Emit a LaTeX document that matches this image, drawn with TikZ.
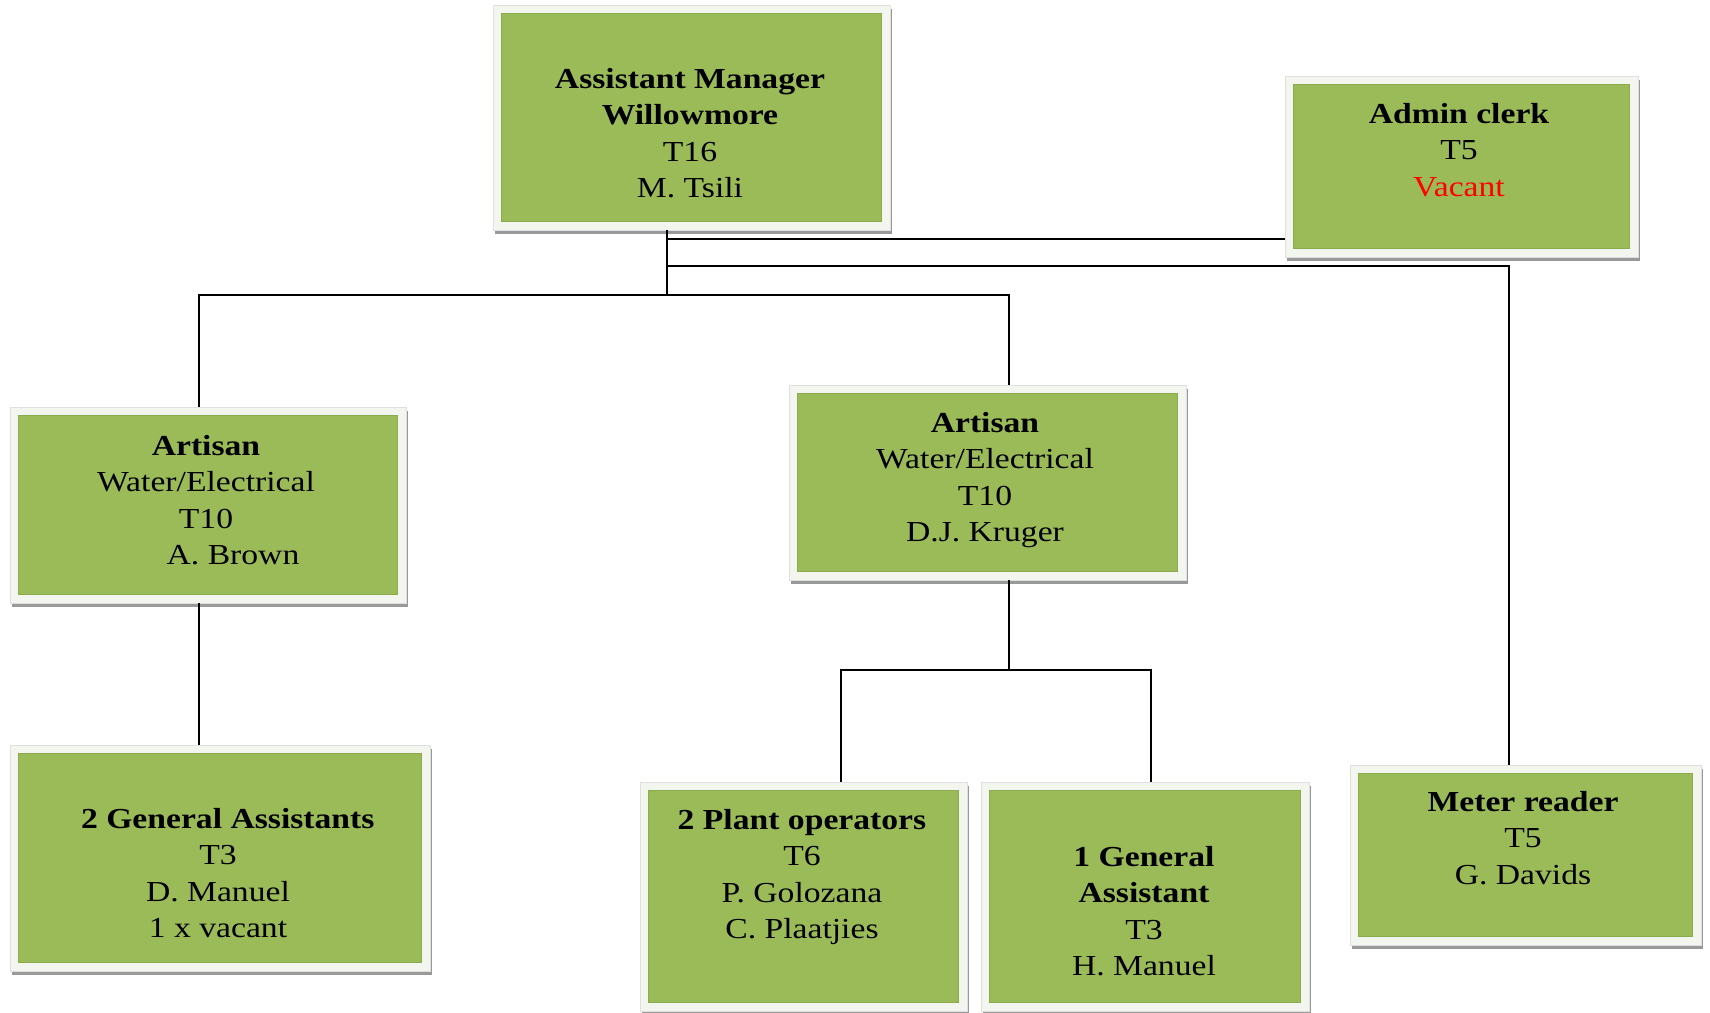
\documentclass[tikz,border=0pt]{standalone}
\usepackage{fontspec}
\setmainfont{Liberation Serif}[FakeStretch=1.16]
\usetikzlibrary{shadows}
\definecolor{boxgreen}{HTML}{9BBB59}
\definecolor{boxedge}{HTML}{8DAA4E}
\definecolor{framecol}{HTML}{F3F6EE}
\definecolor{vacred}{HTML}{FF0000}
\tikzset{
  orgbox/.style={draw=gray!25, line width=0.3pt, fill=framecol, inner sep=0pt,
    drop shadow={shadow xshift=1.2pt, shadow yshift=-1.8pt, fill=gray!80, opacity=1},
    path picture={
      \fill[boxgreen] ([shift={(4pt,-4pt)}]path picture bounding box.north west)
         rectangle ([shift={(-4pt,4pt)}]path picture bounding box.south east);
      \draw[boxedge, line width=0.5pt] ([shift={(4.2pt,-4.2pt)}]path picture bounding box.north west)
         rectangle ([shift={(-4.2pt,4.2pt)}]path picture bounding box.south east);
    }},
  txt/.style={align=center, inner sep=0pt, font=\fontsize{14.5}{18.25}\selectfont},
  link/.style={draw=black, line width=0.95pt}
}
\begin{document}
\begin{tikzpicture}[x=0.5pt, y=-0.5pt]
\useasboundingbox[fill=white] (0,0) rectangle (1710,1013);

% boxes
\node[orgbox, minimum width=198.5pt, minimum height=112.5pt] (top)   at (691.5,117.5) {};
\node[orgbox, minimum width=176.5pt, minimum height=90.5pt]  (admin) at (1461.5,166.5) {};
\node[orgbox, minimum width=198pt,   minimum height=98pt]    (artL)  at (208,505) {};
\node[orgbox, minimum width=198.5pt, minimum height=97.5pt]  (artR)  at (987.5,482.5) {};
\node[orgbox, minimum width=210pt,   minimum height=113pt]   (ga2)   at (220,858) {};
\node[orgbox, minimum width=163.5pt, minimum height=114.5pt] (po)    at (803.5,896.5) {};
\node[orgbox, minimum width=164pt,   minimum height=114.5pt] (ga1)   at (1145,896.5) {};
\node[orgbox, minimum width=175.5pt, minimum height=90pt]    (meter) at (1525.5,855) {};

% texts
\node[txt] (tTop) at (690,133) {\textbf{Assistant Manager}\\\textbf{Willowmore}\\T16\\M. Tsili};
\node[txt] (tAdmin) at (1459,150) {\textbf{Admin clerk}\\T5\\\textcolor{vacred}{Vacant}};
\node[txt] (tArtL) at (206,500) {\textbf{Artisan}\\Water/Electrical\\T10\\\hspace*{27pt}A. Brown};
\node[txt] (tArtR) at (985,480) {\textbf{Artisan}\\Water/Electrical\\T10\\D.J. Kruger};
\node[txt] (tGA2) at (218,873) {\hspace*{9.8pt}\textbf{2 General Assistants}\\T3\\D. Manuel\\1 x vacant};
\node[txt] (tPO) at (802,877) {\textbf{2 Plant operators}\\T6\\P. Golozana\\C. Plaatjies};
\node[txt] (tGA1) at (1144,911) {\textbf{1 General}\\\textbf{Assistant}\\T3\\H. Manuel};
\node[txt] (tMeter) at (1523,838) {\textbf{Meter reader}\\T5\\G. Davids};

% junction coordinates
\coordinate (bTop) at (667,295);
\coordinate (bAdmin) at (667,239);
\coordinate (bMeter) at (667,266);
\coordinate (mCorner) at (1509,266);
\coordinate (bL) at (199,295);
\coordinate (bR) at (1009,295);
\coordinate (bK) at (1009,670);
\coordinate (bPO) at (841,670);
\coordinate (bGA) at (1151,670);

% connectors
\draw[link] (top.south -| bTop) -- (bTop);
\draw[link] (bAdmin) -- (bAdmin -| admin.west);
\draw[link] (bMeter) -- (mCorner) -- (mCorner |- meter.north);
\draw[link] (bL |- artL.north) -- (bL) -- (bR) -- (bR |- artR.north);
\draw[link] (artL.south -| bL) -- (bL |- ga2.north);
\draw[link] (artR.south -| bK) -- (bK);
\draw[link] (bPO |- po.north) -- (bPO) -- (bGA) -- (bGA |- ga1.north);
\end{tikzpicture}
\end{document}
